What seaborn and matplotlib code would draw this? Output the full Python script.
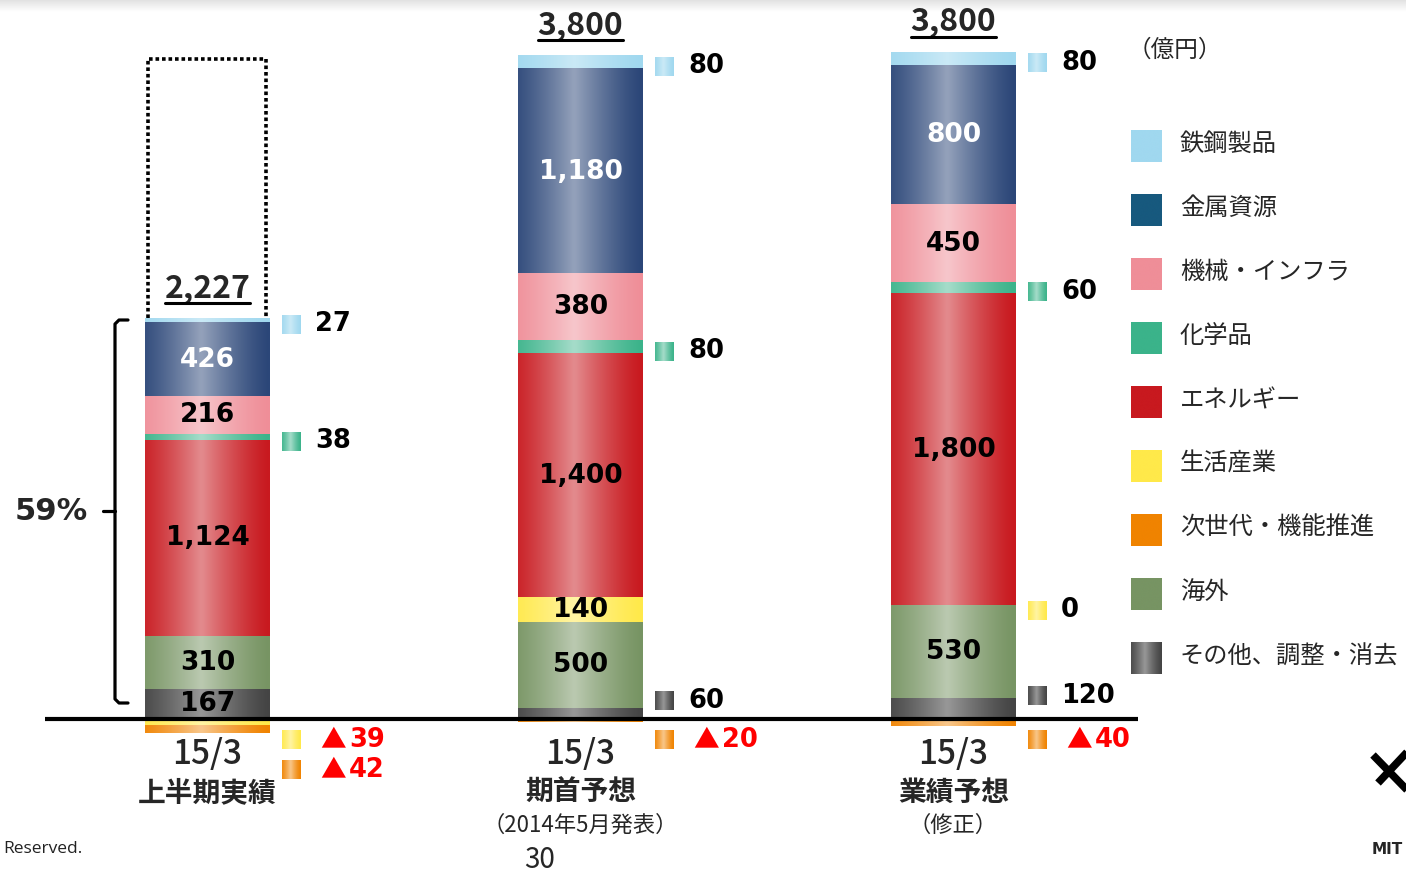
"""
plot.py
=======
Stacked segment profit chart (15/3), 上半期実績 vs 期首予想 vs 業績予想.
"""

import numpy as np
import matplotlib
matplotlib.use("Agg")
import matplotlib.pyplot as plt
import matplotlib.colors as mcolors
from matplotlib.lines import Line2D
import seaborn as sns

sns.set_theme(style="white")
plt.rcParams["font.family"] = ["Noto Sans CJK JP", "DejaVu Sans"]
NUM_FONT = ["DejaVu Sans", "Noto Sans CJK JP"]

# ---------------------------------------------------------------------------
# Data (億円)
# ---------------------------------------------------------------------------
PERIODS = ["上半期実績", "期首予想", "業績予想"]
PERIOD_TOP = ["15/3", "15/3", "15/3"]
PERIOD_NOTE = ["", "（2014年5月発表）", "（修正）"]

SEGMENTS = ["鉄鋼製品", "金属資源", "機械・インフラ", "化学品", "エネルギー",
            "生活産業", "次世代・機能推進", "海外", "その他、調整・消去"]
STEEL = [27, 80, 80]
METALS = [426, 1180, 800]
MACHINERY = [216, 380, 450]
CHEMICALS = [38, 80, 60]
ENERGY = [1124, 1400, 1800]
LIFESTYLE = [-39, 140, 0]
INNOVATION = [-42, -20, -40]
OVERSEAS = [310, 500, 530]
OTHER = [167, 60, 120]
TOTALS = [2227, 3800, 3800]
SHARE_LABEL = "59%"
UNIT_LABEL = "（億円）"

VALUES = [STEEL, METALS, MACHINERY, CHEMICALS, ENERGY,
          LIFESTYLE, INNOVATION, OVERSEAS, OTHER]

# ---------------------------------------------------------------------------
# Styles / layout
# ---------------------------------------------------------------------------
BAR_COLORS = ["#a0d8ef", "#2b4678", "#ef8e98", "#3bb38a", "#c8191f",
              "#ffe94a", "#f08300", "#779463", "#444444"]
LEGEND_COLORS = ["#a0d8ef", "#17597e", "#ef8e98", "#3bb38a", "#c8191f",
                 "#ffe94a", "#f08300", "#779463", "#444444"]
SHINE = [0.45, 0.5, 0.5, 0.55, 0.5, 0.5, 0.55, 0.5, 0.45]
STACK_ORDER = [8, 7, 5, 4, 3, 2, 1, 0]   # bottom -> top for positive values
NEG_ORDER = [5, 6]                        # just below zero -> further down
INSIDE_MIN = 130  # smaller segments get a label at the side

W, H = 1406, 873
ZERO_PX, PPU = 719, 0.1738       # pixel row of 0, pixels per 億円
X0_PX, XSTEP_PX = 207.5, 373     # pixel column of first bar, bar spacing
BAR_W = 125 / XSTEP_PX


def px_x(px):
    return (px - X0_PX) / XSTEP_PX


def px_y(py):
    return (ZERO_PX - py) / PPU


def shade(color, strength, n=64):
    base = np.array(mcolors.to_rgb(color))
    t = np.linspace(0, 1, n)
    w = np.clip(1 - np.abs(t - 0.45) / 0.55, 0, 1) ** 1.3
    mix = (strength * w)[:, None]
    return (base[None, :] * (1 - mix) + mix)[None, :, :]


def gradient_fill(ax, x0, x1, y0, y1, color, strength, zorder=3):
    ax.imshow(shade(color, strength), extent=[x0, x1, min(y0, y1), max(y0, y1)],
              aspect="auto", interpolation="bicubic", zorder=zorder)


fig = plt.figure(figsize=(W / 100, H / 100), dpi=100)
ax = fig.add_axes([0, 0, 1, 1])

# ---------------------------------------------------------------------------
# Stack bottoms: positives grow up from 0, negatives hang below 0
# ---------------------------------------------------------------------------
n = len(PERIODS)
bottoms = [np.zeros(n) for _ in SEGMENTS]
pos_base = np.zeros(n)
for i in STACK_ORDER:
    v = np.array(VALUES[i], dtype=float)
    bottoms[i] = np.where(v >= 0, pos_base, 0.0)
    pos_base = pos_base + np.clip(v, 0, None)
stack_top = pos_base
neg_base = np.zeros(n)
for i in NEG_ORDER:
    v = np.array(VALUES[i], dtype=float)
    bottoms[i] = np.where(v >= 0, bottoms[i], neg_base)
    neg_base = neg_base + np.clip(v, None, 0)

neg_slot = np.zeros(n, dtype=int)
for i, seg in enumerate(SEGMENTS):
    before = len(ax.patches)
    sns.barplot(x=PERIODS, y=VALUES[i], bottom=bottoms[i], color=BAR_COLORS[i],
                saturation=1, width=BAR_W, errorbar=None, linewidth=0,
                ax=ax, zorder=2)
    for p in ax.patches[before:]:
        if p.get_height() != 0:
            gradient_fill(ax, p.get_x(), p.get_x() + p.get_width(),
                          p.get_y(), p.get_y() + p.get_height(),
                          BAR_COLORS[i], SHINE[i])

    for j, v in enumerate(VALUES[i]):
        centre = bottoms[i][j] + v / 2
        if v >= INSIDE_MIN:
            ax.text(j, centre, f"{v:,}", ha="center", va="center",
                    fontsize=19, fontweight="bold", family=NUM_FONT, zorder=5,
                    color="white" if i == 1 else "black")
            continue
        # side label with a small swatch
        ypx = ZERO_PX - centre * PPU + 4
        if v < 0:
            ypx = ZERO_PX + 21 + 30 * neg_slot[j]
            neg_slot[j] += 1
        elif i == 8:
            ypx -= 17
        sx = j + BAR_W / 2 + 12 / XSTEP_PX
        gradient_fill(ax, sx, sx + 19 / XSTEP_PX, px_y(ypx - 9.5), px_y(ypx + 9.5),
                      BAR_COLORS[i], SHINE[i])
        if v < 0:
            ax.text(sx + 38 / XSTEP_PX, px_y(ypx), "▲", ha="left", va="center",
                    fontsize=18.5, family="Noto Sans CJK JP", color="#ff0000")
            ax.text(sx + 67 / XSTEP_PX, px_y(ypx), f"{-v}", ha="left",
                    va="center", fontsize=18.5, fontweight="bold",
                    family=NUM_FONT, color="#ff0000")
        else:
            ax.text(sx + 33 / XSTEP_PX, px_y(ypx), f"{v:,}", ha="left",
                    va="center", fontsize=18.5, fontweight="bold",
                    family=NUM_FONT, color="black")

# zero line
ax.plot([px_x(45), px_x(1138)], [0, 0], color="black", lw=3, zorder=6,
        solid_capstyle="butt")

# dotted target box over the first bar
left, right = -BAR_W / 2 + 3 / XSTEP_PX, BAR_W / 2 - 4 / XSTEP_PX
ax.plot([left, left, right, right],
        [stack_top[0], max(TOTALS), max(TOTALS), stack_top[0]],
        color="black", lw=2.6, ls=(0, (1, 0.8)), zorder=4)

# totals, underlined
total_texts = []
for j, tot in enumerate(TOTALS):
    base_px = ZERO_PX - stack_top[j] * PPU - 21
    t = ax.text(j, px_y(base_px), f"{tot:,}", ha="center", va="baseline",
                fontsize=23, fontweight="bold", zorder=5)
    total_texts.append((t, base_px))

# category labels
for j in range(n):
    ax.text(j, px_y(755), PERIOD_TOP[j], ha="center", va="center",
            fontsize=24, fontweight="medium")
    ax.text(j, px_y(793), PERIODS[j], ha="center", va="center",
            fontsize=20, fontweight="bold")
    if PERIOD_NOTE[j]:
        ax.text(j, px_y(825), PERIOD_NOTE[j], ha="center", va="center",
                fontsize=16)

# legend
fig.text(1128 / W, 1 - 50 / H, UNIT_LABEL, ha="left", va="center", fontsize=17)
for i, seg in enumerate(SEGMENTS):
    cy = 146 + 64 * i
    gradient_fill(ax, px_x(1131), px_x(1162), px_y(cy - 16), px_y(cy + 16),
                  LEGEND_COLORS[i], SHINE[i] if i == 8 else 0.0)
    fig.text(1180 / W, 1 - (cy - 2) / H, seg, ha="left", va="center", fontsize=17.5)

# brace + share label
bx = [128, 119, 115, 115, 119, 128]
by = [320, 320, 324, 699, 703, 703]
fig.add_artist(Line2D([x / W for x in bx], [1 - y / H for y in by],
                      color="black", lw=2.3, solid_joinstyle="round"))
fig.add_artist(Line2D([103 / W, 115 / W], [1 - 511 / H, 1 - 511 / H],
                      color="black", lw=2.3))
fig.text(51 / W, 1 - 511 / H, SHARE_LABEL, ha="center", va="center",
         fontsize=22, fontweight="bold", family=NUM_FONT)

# slide chrome: soft shadow at the top, footer bits
shadow = np.linspace(0.88, 1.0, 12)[:, None, None] * np.ones((1, 1, 3))
ax.imshow(shadow, extent=[px_x(0), px_x(W), px_y(12), px_y(0)],
          aspect="auto", interpolation="bicubic", zorder=0)
fig.text(3 / W, 1 - 849 / H, "Reserved.", ha="left", va="center",
         fontsize=12.5, family="Open Sans", color="#222222")
fig.text(540 / W, 1 - 860 / H, "30", ha="center", va="center", fontsize=20)
fig.text(1372 / W, 1 - 849 / H, "MIT", ha="left", va="center",
         fontsize=11, fontweight="bold", family="DejaVu Sans")
fig.add_artist(Line2D([1373 / W, 1410 / W], [1 - 755 / H, 1 - 793 / H],
                      color="black", lw=5.5, solid_capstyle="butt"))
fig.add_artist(Line2D([1378 / W, 1410 / W], [1 - 783 / H, 1 - 749 / H],
                      color="black", lw=5.5, solid_capstyle="butt"))

ax.set_xlim(px_x(0), px_x(W))
ax.set_ylim(px_y(H), px_y(0))
ax.axis("off")

# underline the totals once their width is known
fig.canvas.draw()
for t, base_px in total_texts:
    bb = t.get_window_extent()
    y = 1 - (base_px + 6) / H
    fig.add_artist(Line2D([bb.x0 / W, bb.x1 / W], [y, y], color="black", lw=2.2))

fig.savefig("out.png", dpi=100)
plt.close(fig)
